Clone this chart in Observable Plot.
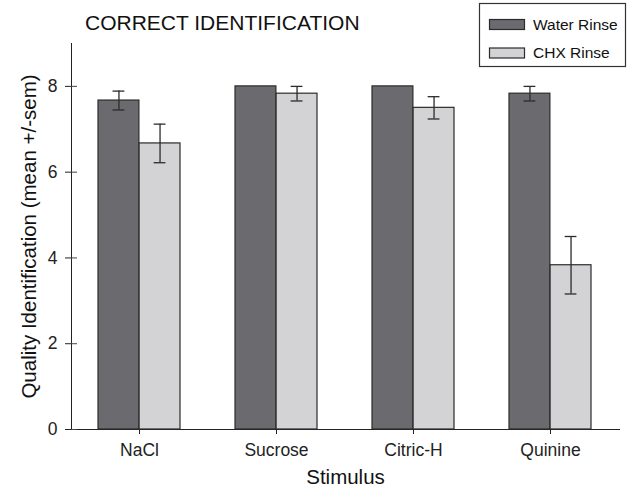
<!DOCTYPE html>
<html><head><meta charset="utf-8">
<script src="https://cdn.jsdelivr.net/npm/d3@7"></script>
<script src="https://cdn.jsdelivr.net/npm/@observablehq/plot@0.6"></script>
<style>body{margin:0;background:#fff;font-family:"Liberation Sans",Arial,sans-serif}</style>
</head><body><div id="chart"></div>
<script>
const stimuli = ["NaCl", "Sucrose", "Citric-H", "Quinine"];
const seriesNames = ["Water Rinse", "CHX Rinse"];
const waterMean = [7.67, 8.0, 8.0, 7.83];
const waterSem = [0.22, 0, 0, 0.17];
const chxMean = [6.67, 7.83, 7.5, 3.83];
const chxSem = [0.45, 0.17, 0.26, 0.67];
const yTicks = [0, 2, 4, 6, 8];
const titleText = "CORRECT IDENTIFICATION";
const xLabel = "Stimulus";
const yLabel = "Quality Identification (mean +/-sem)";

const colors = ["#6b6b6f", "#d3d3d5"];
const W = 630, H = 491, ML = 71, MR = 11, MT = 43, MB = 62;
const pI = 0.4, pO = 0.2;
const step = (W - ML - MR) / (stimuli.length - pI + 2 * pO);
const bw = step * (1 - pI);
const half = bw / 2;

const rows = [];
stimuli.forEach((s, i) => {
  rows.push({stim: s, series: seriesNames[0], mean: waterMean[i], sem: waterSem[i], k: 0});
  rows.push({stim: s, series: seriesNames[1], mean: chxMean[i], sem: chxSem[i], k: 1});
});
const errRows = rows.filter(d => d.sem > 0);

function seriesMarks(k) {
  const data = rows.filter(d => d.k === k);
  const err = errRows.filter(d => d.k === k);
  const off = k === 0 ? -half / 2 : half / 2;
  return [
    Plot.barY(data, {x: "stim", y: "mean", fill: colors[k], stroke: "#2b2b2b", strokeWidth: 1.2,
      insetLeft: k === 0 ? 0 : half, insetRight: k === 0 ? half : 0}),
    Plot.ruleX(err, {x: "stim", y1: d => d.mean - d.sem, y2: d => d.mean + d.sem, dx: off, stroke: "#2b2b2b", strokeWidth: 1.3}),
    Plot.tickY(err, {x: "stim", y: d => d.mean + d.sem, dx: off, stroke: "#2b2b2b", strokeWidth: 1.3, insetLeft: half - 6, insetRight: half - 6}),
    Plot.tickY(err, {x: "stim", y: d => d.mean - d.sem, dx: off, stroke: "#2b2b2b", strokeWidth: 1.3, insetLeft: half - 6, insetRight: half - 6})
  ];
}

const plot = Plot.plot({
  width: W, height: H,
  marginLeft: ML, marginRight: MR, marginTop: MT, marginBottom: MB,
  style: {fontFamily: "Liberation Sans, Arial, sans-serif", fontSize: "17.5px", color: "#222", background: "#fff"},
  x: {domain: stimuli, paddingInner: pI, paddingOuter: pO, label: null, line: true, tickSize: 5, tickPadding: 9},
  y: {domain: [0, 9], ticks: yTicks, label: null, line: true, tickSize: 6, tickPadding: 8},
  marks: [
    ...seriesMarks(0),
    ...seriesMarks(1),
    Plot.tickY(yTicks, {y: d => d, stroke: "#444", insetRight: W - ML - MR - 6}),
    Plot.text([xLabel], {frameAnchor: "bottom", dy: 54, fontSize: 20.5, fill: "#111"}),
    Plot.text([yLabel], {frameAnchor: "left", dx: -42, rotate: -90, textAnchor: "middle", fontSize: 20.5, fill: "#111"})
  ]
});

const svg = d3.select(plot);
svg.append("text").attr("x", 85).attr("y", 30).attr("text-anchor", "start").attr("font-size", 21).attr("fill", "#111").text(titleText);
const lg = svg.append("g");
lg.append("rect").attr("x", 479.5).attr("y", 3.5).attr("width", 146).attr("height", 63).attr("fill", "#fff").attr("stroke", "#333").attr("stroke-width", 1.2);
seriesNames.forEach((n, i) => {
  lg.append("rect").attr("x", 489.5).attr("y", 19.5 + i * 28.5).attr("width", 35).attr("height", 10).attr("fill", colors[i]).attr("stroke", "#2b2b2b").attr("stroke-width", 1.2);
  lg.append("text").attr("x", 533).attr("y", 29.5 + i * 28.5).attr("text-anchor", "start").attr("font-size", 15.5).attr("fill", "#111").text(n);
});
document.getElementById("chart").appendChild(plot);
</script></body></html>
